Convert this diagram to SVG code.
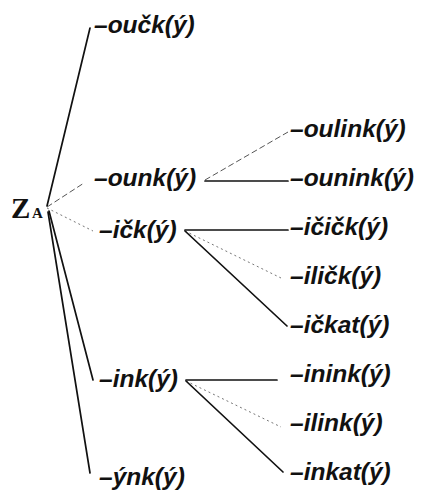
<svg xmlns="http://www.w3.org/2000/svg" width="421" height="492" viewBox="0 0 421 492">
<style>
.t{font-family:"Liberation Sans",Arial,sans-serif;font-weight:bold;font-style:italic;font-size:24.5px;fill:#111}
.z{font-family:"Liberation Serif","Times New Roman",serif;font-weight:bold;fill:#111}
.s{stroke:#111;stroke-width:1.7;fill:none;stroke-linecap:round}
.d{stroke:#555;stroke-width:1;fill:none;stroke-dasharray:6 3}
.o{stroke:#777;stroke-width:1;fill:none;stroke-dasharray:2 3}
</style>
<rect width="421" height="492" fill="#fff"/>
<g id="connectors">
<line class="s" x1="47" y1="206" x2="90" y2="28"/>
<line class="d" x1="47" y1="207" x2="84" y2="183"/>
<line class="o" x1="47" y1="208" x2="93" y2="231"/>
<line class="s" x1="49" y1="211" x2="93" y2="380"/>
<line class="s" x1="48" y1="212" x2="90" y2="473"/>
<line class="d" x1="205" y1="180" x2="288" y2="132"/>
<line class="s" x1="205" y1="181" x2="288" y2="181"/>
<line class="s" x1="185" y1="230" x2="288" y2="230"/>
<line class="o" x1="185" y1="231" x2="281" y2="278"/>
<line class="s" x1="185" y1="231" x2="287" y2="326"/>
<line class="s" x1="186" y1="380" x2="277" y2="380"/>
<line class="o" x1="186" y1="381" x2="281" y2="427"/>
<line class="s" x1="186" y1="381" x2="283" y2="472"/>
</g>
<g id="root"><text class="z" x="11" y="218" font-size="29">Z</text><text class="z" x="32" y="218" font-size="15">A</text></g>
<g id="n-ouck"><text class="t" x="94" y="33">–oučk(ý)</text></g>
<g id="n-ounk"><text class="t" x="94" y="186">–ounk(ý)</text></g>
<g id="n-ick"><text class="t" x="99" y="238">–ičk(ý)</text></g>
<g id="n-ink"><text class="t" x="99" y="387">–ink(ý)</text></g>
<g id="n-ynk"><text class="t" x="99" y="485">–ýnk(ý)</text></g>
<g id="n-oulink"><text class="t" x="290" y="137">–oulink(ý)</text></g>
<g id="n-ounink"><text class="t" x="290" y="186">–ounink(ý)</text></g>
<g id="n-icick"><text class="t" x="290" y="235">–ičičk(ý)</text></g>
<g id="n-ilick"><text class="t" x="290" y="284">–iličk(ý)</text></g>
<g id="n-ickat"><text class="t" x="290" y="333">–ičkat(ý)</text></g>
<g id="n-inink"><text class="t" x="290" y="382">–inink(ý)</text></g>
<g id="n-ilink"><text class="t" x="290" y="431">–ilink(ý)</text></g>
<g id="n-inkat"><text class="t" x="290" y="480">–inkat(ý)</text></g>
</svg>
